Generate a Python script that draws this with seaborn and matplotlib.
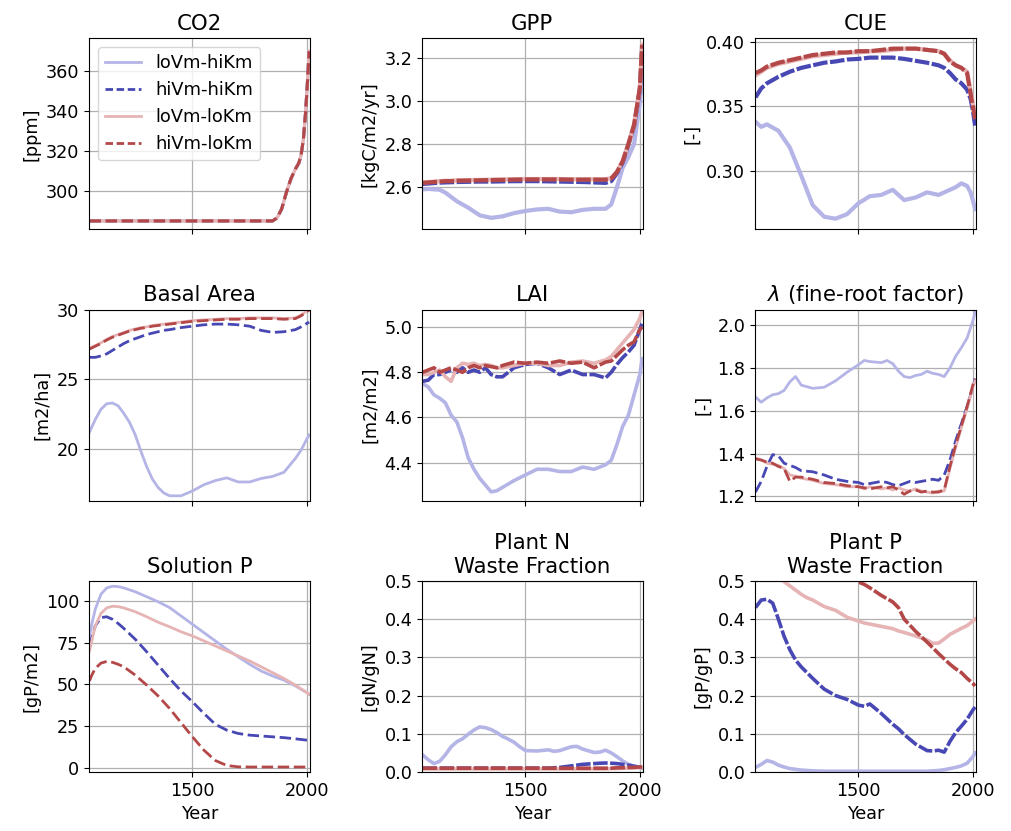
import numpy as np
import pandas as pd
import matplotlib
matplotlib.use("Agg")
import matplotlib.pyplot as plt
from matplotlib.lines import Line2D
import seaborn as sns

# ---------------- data ----------------
series_names = ["loVm-hiKm", "hiVm-hiKm", "loVm-loKm", "hiVm-loKm"]
series_colors = ["#b4b4e6", "#4848b4", "#e6b4b4", "#b44848"]
series_styles = ["-", "--", "-", "--"]

co2_years = [1050, 1850, 1870, 1890, 1910, 1930, 1950, 1965, 1975, 1985, 1995, 2003, 2010]
co2_vals = [285, 285, 286.5, 291, 299, 306, 311, 314, 318, 326, 340, 355, 370]

gpp_years = [1050, 1075, 1100, 1125, 1150, 1175, 1200, 1250, 1300, 1350, 1400, 1450, 1500,
             1550, 1600, 1650, 1700, 1750, 1800, 1850, 1875, 1900, 1925, 1950, 1975, 2000, 2010]
gpp_lohi = [2.59, 2.592, 2.59, 2.588, 2.575, 2.555, 2.535, 2.505, 2.47, 2.458, 2.465, 2.48, 2.49,
            2.497, 2.50, 2.487, 2.484, 2.495, 2.50, 2.50, 2.52, 2.60, 2.69, 2.74, 2.80, 2.99, 3.11]
gpp_hihi = [2.615, 2.617, 2.619, 2.621, 2.622, 2.623, 2.624, 2.625, 2.626, 2.626, 2.627, 2.628, 2.628,
            2.628, 2.627, 2.626, 2.625, 2.624, 2.622, 2.62, 2.628, 2.665, 2.715, 2.795, 2.885, 3.05, 3.25]
gpp_lolo = [2.622, 2.624, 2.626, 2.628, 2.63, 2.63, 2.632, 2.633, 2.634, 2.635, 2.636, 2.637, 2.638,
            2.638, 2.638, 2.638, 2.637, 2.637, 2.637, 2.637, 2.642, 2.672, 2.722, 2.80, 2.89, 3.06, 3.26]
gpp_hilo = [2.620, 2.622, 2.624, 2.626, 2.628, 2.628, 2.630, 2.631, 2.632, 2.633, 2.634, 2.635, 2.636,
            2.636, 2.636, 2.636, 2.635, 2.635, 2.635, 2.635, 2.640, 2.670, 2.720, 2.80, 2.89, 3.06, 3.26]

cue_years = [1050, 1075, 1100, 1150, 1200, 1250, 1300, 1350, 1400, 1450, 1500, 1550, 1600,
             1650, 1700, 1750, 1800, 1850, 1875, 1900, 1925, 1950, 1975, 1990, 2000, 2010]
cue_lohi = [0.338, 0.334, 0.336, 0.331, 0.318, 0.296, 0.273, 0.264, 0.2625, 0.266, 0.2745, 0.280, 0.281,
            0.285, 0.277, 0.279, 0.283, 0.281, 0.283, 0.285, 0.287, 0.290, 0.288, 0.283, 0.277, 0.270]
cue_hihi = [0.357, 0.364, 0.368, 0.373, 0.377, 0.380, 0.382, 0.384, 0.385, 0.3865, 0.387, 0.388, 0.388,
            0.388, 0.387, 0.3855, 0.384, 0.382, 0.380, 0.376, 0.371, 0.368, 0.363, 0.356, 0.347, 0.335]
cue_lolo = [0.374, 0.377, 0.380, 0.383, 0.385, 0.387, 0.389, 0.390, 0.391, 0.392, 0.392, 0.393, 0.393,
            0.394, 0.395, 0.395, 0.394, 0.393, 0.391, 0.386, 0.382, 0.380, 0.377, 0.362, 0.352, 0.344]
cue_hilo = [0.376, 0.378, 0.381, 0.384, 0.386, 0.388, 0.390, 0.391, 0.392, 0.392, 0.393, 0.393, 0.394,
            0.395, 0.395, 0.395, 0.394, 0.393, 0.391, 0.385, 0.382, 0.380, 0.376, 0.360, 0.350, 0.340]

ba_years = [1050, 1075, 1100, 1125, 1150, 1175, 1200, 1225, 1250, 1275, 1300, 1325, 1350, 1375, 1400,
            1450, 1500, 1550, 1600, 1650, 1700, 1750, 1800, 1850, 1900, 1950, 1975, 2000, 2010]
ba_lohi = [21.2, 22.1, 22.85, 23.25, 23.3, 23.1, 22.55, 21.9, 21.0, 19.8, 18.7, 17.8, 17.2, 16.8, 16.6,
           16.6, 16.95, 17.4, 17.7, 17.9, 17.6, 17.6, 17.85, 18.0, 18.3, 19.3, 19.9, 20.7, 21.0]
ba_hihi = [26.6, 26.6, 26.7, 26.85, 27.1, 27.35, 27.6, 27.8, 27.95, 28.1, 28.25, 28.35, 28.45, 28.55, 28.6,
           28.75, 28.85, 28.95, 29.0, 29.0, 28.95, 28.85, 28.55, 28.4, 28.45, 28.6, 28.8, 29.05, 29.15]
ba_lolo = [27.25, 27.45, 27.65, 27.9, 28.1, 28.25, 28.4, 28.55, 28.65, 28.75, 28.8, 28.9, 28.95, 29.0, 29.05,
           29.15, 29.25, 29.3, 29.35, 29.4, 29.4, 29.45, 29.45, 29.45, 29.4, 29.45, 29.65, 29.95, 30.05]
ba_hilo = [27.2, 27.4, 27.6, 27.85, 28.05, 28.2, 28.35, 28.5, 28.6, 28.7, 28.75, 28.85, 28.9, 28.95, 29.0,
           29.1, 29.2, 29.25, 29.3, 29.35, 29.35, 29.4, 29.4, 29.4, 29.35, 29.4, 29.6, 29.9, 30.0]

lai_years = [1050, 1075, 1100, 1125, 1150, 1175, 1200, 1225, 1250, 1275, 1300, 1325, 1350, 1375, 1400,
             1450, 1500, 1550, 1600, 1650, 1700, 1750, 1800, 1850, 1875, 1900, 1925, 1950, 1975, 2000, 2010]
lai_lohi = [4.75, 4.735, 4.70, 4.685, 4.665, 4.61, 4.58, 4.51, 4.42, 4.37, 4.33, 4.30, 4.27, 4.275, 4.29,
            4.32, 4.345, 4.37, 4.37, 4.36, 4.36, 4.38, 4.37, 4.39, 4.41, 4.48, 4.56, 4.61, 4.70, 4.79, 4.86]
lai_hihi = [4.76, 4.765, 4.79, 4.79, 4.80, 4.81, 4.80, 4.82, 4.80, 4.81, 4.80, 4.82, 4.79, 4.78, 4.78,
            4.82, 4.835, 4.84, 4.82, 4.79, 4.81, 4.79, 4.79, 4.775, 4.80, 4.835, 4.865, 4.89, 4.92, 4.99, 5.02]
lai_lolo = [4.79, 4.79, 4.80, 4.81, 4.78, 4.76, 4.82, 4.84, 4.835, 4.84, 4.83, 4.835, 4.83, 4.82, 4.82,
            4.83, 4.84, 4.84, 4.83, 4.83, 4.845, 4.85, 4.84, 4.855, 4.87, 4.90, 4.93, 4.96, 4.99, 5.04, 5.07]
lai_hilo = [4.80, 4.81, 4.82, 4.80, 4.81, 4.82, 4.81, 4.80, 4.82, 4.83, 4.82, 4.83, 4.825, 4.82, 4.83,
            4.845, 4.84, 4.845, 4.84, 4.85, 4.84, 4.845, 4.82, 4.845, 4.85, 4.875, 4.90, 4.92, 4.935, 4.99, 5.00]

lam_years = [1050, 1075, 1100, 1125, 1150, 1175, 1200, 1225, 1250, 1300, 1350, 1400, 1450, 1500, 1525,
             1550, 1600, 1625, 1650, 1675, 1700, 1725, 1750, 1775, 1800, 1825, 1850, 1875, 1900, 1925,
             1950, 1975, 2000, 2010]
lam_lohi = [1.665, 1.64, 1.66, 1.675, 1.68, 1.695, 1.735, 1.76, 1.72, 1.705, 1.71, 1.74, 1.78, 1.815, 1.835,
            1.83, 1.825, 1.835, 1.82, 1.785, 1.76, 1.755, 1.765, 1.77, 1.785, 1.775, 1.77, 1.76, 1.80, 1.855,
            1.895, 1.94, 2.02, 2.06]
lam_hihi = [1.22, 1.27, 1.34, 1.395, 1.39, 1.355, 1.345, 1.335, 1.32, 1.315, 1.30, 1.28, 1.27, 1.265, 1.255,
            1.26, 1.27, 1.265, 1.255, 1.25, 1.26, 1.27, 1.265, 1.27, 1.275, 1.28, 1.275, 1.30, 1.37, 1.46,
            1.54, 1.62, 1.71, 1.75]
lam_lolo = [1.38, 1.37, 1.355, 1.35, 1.345, 1.33, 1.30, 1.295, 1.285, 1.275, 1.26, 1.255, 1.245, 1.245, 1.235,
            1.245, 1.235, 1.24, 1.23, 1.24, 1.23, 1.225, 1.235, 1.225, 1.22, 1.215, 1.225, 1.225, 1.33, 1.43,
            1.52, 1.61, 1.71, 1.74]
lam_hilo = [1.375, 1.37, 1.36, 1.355, 1.34, 1.33, 1.27, 1.29, 1.29, 1.28, 1.265, 1.26, 1.25, 1.245, 1.24,
            1.235, 1.245, 1.24, 1.245, 1.23, 1.21, 1.225, 1.23, 1.22, 1.225, 1.22, 1.22, 1.23, 1.34, 1.44,
            1.53, 1.62, 1.72, 1.75]

solp_years = [1050, 1060, 1075, 1100, 1125, 1150, 1175, 1200, 1250, 1300, 1350, 1400, 1450, 1500,
              1550, 1600, 1650, 1700, 1750, 1800, 1850, 1900, 1950, 2000, 2010]
solp_lohi = [79, 86, 95, 104, 107.8, 108.8, 108.6, 107.8, 105.5, 102.5, 99.5, 96, 91, 86,
             81, 76, 71, 66.5, 62, 58, 55, 52.5, 49, 45, 44]
solp_hihi = [73, 78, 85, 90, 90.5, 89, 86.5, 83.5, 77, 69.5, 61.5, 53.5, 46, 39.5,
             32.5, 26, 22.5, 20.5, 19.5, 19, 18.5, 18, 17.3, 16.5, 16.2]
solp_lolo = [70, 76, 85, 92.5, 95.8, 96.8, 96.6, 95.8, 93.5, 90.5, 87.2, 84.5, 81.5, 79,
             76, 73, 70, 67, 64, 60.5, 57, 53.5, 49.5, 45, 44]
solp_hilo = [52, 55.5, 59.5, 62.7, 63.7, 63.2, 62, 60.5, 55.5, 49.5, 43, 35.5, 27, 18.5,
             10.5, 4.3, 1.3, 0.5, 0.4, 0.4, 0.4, 0.4, 0.4, 0.4, 0.4]

pnw_years = [1050, 1075, 1100, 1125, 1150, 1175, 1200, 1225, 1250, 1275, 1300, 1325, 1350, 1375, 1400,
             1425, 1450, 1475, 1500, 1550, 1600, 1625, 1650, 1700, 1725, 1750, 1800, 1825, 1850, 1875,
             1900, 1925, 1950, 1975, 2000, 2010]
pnw_lohi = [0.045, 0.032, 0.022, 0.028, 0.045, 0.066, 0.079, 0.087, 0.099, 0.110, 0.118, 0.116, 0.111,
            0.103, 0.093, 0.086, 0.078, 0.066, 0.056, 0.055, 0.058, 0.054, 0.056, 0.066, 0.067, 0.060,
            0.051, 0.052, 0.057, 0.050, 0.040, 0.029, 0.020, 0.015, 0.011, 0.010]
pnw_hihi = [0.010, 0.010, 0.010, 0.010, 0.010, 0.010, 0.010, 0.010, 0.010, 0.010, 0.010, 0.010, 0.010,
            0.010, 0.010, 0.010, 0.010, 0.010, 0.010, 0.010, 0.010, 0.011, 0.012, 0.016, 0.018, 0.020,
            0.022, 0.023, 0.0235, 0.023, 0.022, 0.020, 0.018, 0.015, 0.013, 0.013]
pnw_lolo = [0.008, 0.008, 0.008, 0.008, 0.008, 0.008, 0.008, 0.008, 0.008, 0.008, 0.008, 0.008, 0.008,
            0.008, 0.008, 0.008, 0.008, 0.008, 0.008, 0.008, 0.008, 0.008, 0.008, 0.008, 0.008, 0.008,
            0.008, 0.008, 0.008, 0.009, 0.009, 0.010, 0.010, 0.011, 0.012, 0.012]
pnw_hilo = [0.010, 0.010, 0.010, 0.010, 0.010, 0.010, 0.010, 0.010, 0.010, 0.010, 0.010, 0.010, 0.010,
            0.010, 0.010, 0.010, 0.010, 0.010, 0.010, 0.010, 0.010, 0.010, 0.010, 0.010, 0.010, 0.010,
            0.010, 0.010, 0.010, 0.010, 0.011, 0.011, 0.012, 0.012, 0.013, 0.013]

ppw_years = [1050, 1075, 1100, 1125, 1150, 1175, 1200, 1225, 1250, 1275, 1300, 1350, 1400, 1450, 1500,
             1525, 1550, 1600, 1650, 1675, 1700, 1750, 1800, 1825, 1850, 1875, 1900, 1925, 1950, 1975,
             2000, 2010]
ppw_lohi = [0.012, 0.020, 0.030, 0.026, 0.018, 0.013, 0.009, 0.007, 0.005, 0.004, 0.003, 0.002, 0.002,
            0.002, 0.002, 0.002, 0.002, 0.002, 0.002, 0.002, 0.002, 0.002, 0.002, 0.003, 0.004, 0.006,
            0.009, 0.012, 0.016, 0.023, 0.040, 0.050]
ppw_hihi = [0.43, 0.45, 0.452, 0.442, 0.40, 0.355, 0.32, 0.293, 0.275, 0.26, 0.245, 0.217, 0.20, 0.19,
            0.175, 0.172, 0.178, 0.153, 0.125, 0.113, 0.098, 0.073, 0.056, 0.055, 0.057, 0.052, 0.08,
            0.103, 0.12, 0.138, 0.162, 0.17]
ppw_lolo = [0.62, 0.59, 0.56, 0.535, 0.515, 0.498, 0.487, 0.476, 0.465, 0.456, 0.45, 0.433, 0.423, 0.405,
            0.395, 0.39, 0.387, 0.381, 0.375, 0.369, 0.365, 0.356, 0.345, 0.337, 0.337, 0.348, 0.36,
            0.368, 0.376, 0.383, 0.395, 0.40]
ppw_hilo = [0.85, 0.83, 0.81, 0.79, 0.77, 0.75, 0.72, 0.70, 0.68, 0.66, 0.64, 0.61, 0.57, 0.53, 0.497,
            0.491, 0.482, 0.462, 0.445, 0.43, 0.40, 0.368, 0.34, 0.325, 0.31, 0.296, 0.282, 0.27, 0.26,
            0.245, 0.232, 0.225]

panel_titles = ["CO2", "GPP", "CUE", "Basal Area", "LAI", r"$\lambda$ (fine-root factor)",
                "Solution P", "Plant N\nWaste Fraction", "Plant P\nWaste Fraction"]
panel_ylabels = ["[ppm]", "[kgC/m2/yr]", "[-]", "[m2/ha]", "[m2/m2]", "[-]",
                 "[gP/m2]", "[gN/gN]", "[gP/gP]"]
panel_yticklabels = [None, ["2.6", "2.8", "3.0", "3.2"], ["0.30", "0.35", "0.40"],
                     None, None, None, None, None, None]
x_ticks = [1500, 2000]

# ---------------- plotting ----------------
plt.rcParams.update({"font.size": 12.7, "axes.titlesize": 15.3, "axes.labelsize": 12.7,
                     "xtick.labelsize": 12.7, "ytick.labelsize": 12.7,
                     "font.family": ["DejaVu Sans"]})

# (years, series, ylim, yticks, linewidth, noisy?)
panels = [
    (co2_years, [co2_vals, co2_vals, co2_vals, co2_vals], (280.8, 376.5), [300, 320, 340, 360], 2.2, False),
    (gpp_years, [gpp_lohi, gpp_hihi, gpp_lolo, gpp_hilo], (2.405, 3.29), [2.6, 2.8, 3.0, 3.2], 3.0, True),
    (cue_years, [cue_lohi, cue_hihi, cue_lolo, cue_hilo], (0.2542, 0.4031), [0.30, 0.35, 0.40], 3.0, True),
    (ba_years, [ba_lohi, ba_hihi, ba_lolo, ba_hilo], (16.25, 30.05), [20, 25, 30], 2.0, False),
    (lai_years, [lai_lohi, lai_hihi, lai_lolo, lai_hilo], (4.231, 5.078), [4.4, 4.6, 4.8, 5.0], 2.6, True),
    (lam_years, [lam_lohi, lam_hihi, lam_lolo, lam_hilo], (1.18, 2.073), [1.2, 1.4, 1.6, 1.8, 2.0], 2.0, False),
    (solp_years, [solp_lohi, solp_hihi, solp_lolo, solp_hilo], (-2.6, 112), [0, 25, 50, 75, 100], 2.0, False),
    (pnw_years, [pnw_lohi, pnw_hihi, pnw_lolo, pnw_hilo], (0, 0.5), [0, 0.1, 0.2, 0.3, 0.4, 0.5], 2.6, True),
    (ppw_years, [ppw_lohi, ppw_hihi, ppw_lolo, ppw_hilo], (0, 0.5), [0, 0.1, 0.2, 0.3, 0.4, 0.5], 2.6, True),
]

fig, axes = plt.subplots(3, 3, figsize=(10.12, 8.31), dpi=100, sharex=True)
fig.subplots_adjust(left=0.088, right=0.964, top=0.954, bottom=0.071, wspace=0.51, hspace=0.42)

for i, (ax, (yrs, vals_list, ylim, yticks, lw, noisy)) in enumerate(zip(axes.flat, panels)):
    for name, vals, col, ls in zip(series_names, vals_list, series_colors, series_styles):
        df = pd.DataFrame({"Year": yrs, "value": vals})
        sns.lineplot(data=df, x="Year", y="value", ax=ax, color=col, lw=lw,
                     label=name, legend=False)
        line = ax.lines[-1]
        if ls == "--":
            line.set_linestyle("--")
            if noisy:
                line.set_dashes((7.0 * 1.5 / lw, 1.2 * 1.5 / lw))
            else:
                line.set_dashes((5.5 * 1.5 / lw, 2.2 * 1.5 / lw))
    ax.set_title(panel_titles[i])
    ax.set_ylabel(panel_ylabels[i])
    ax.set_ylim(*ylim)
    ax.set_yticks(yticks)
    if panel_yticklabels[i] is not None:
        ax.set_yticklabels(panel_yticklabels[i])
    ax.set_xlim(1048, 2012)
    ax.set_xticks(x_ticks)
    ax.grid(True, color="#b0b0b0", lw=0.9)
    ax.set_axisbelow(True)
    ax.set_xlabel("Year" if i >= 6 else "")

# legend in first panel
handles = []
for c, s in zip(series_colors, series_styles):
    h = Line2D([0], [0], color=c, lw=2.0, linestyle=s)
    if s == "--":
        h.set_dashes((2.7, 1.3))
    handles.append(h)
axes[0, 0].legend(handles, series_names, loc="upper left", fontsize=12.9)

fig.savefig("out.png", dpi=100)
